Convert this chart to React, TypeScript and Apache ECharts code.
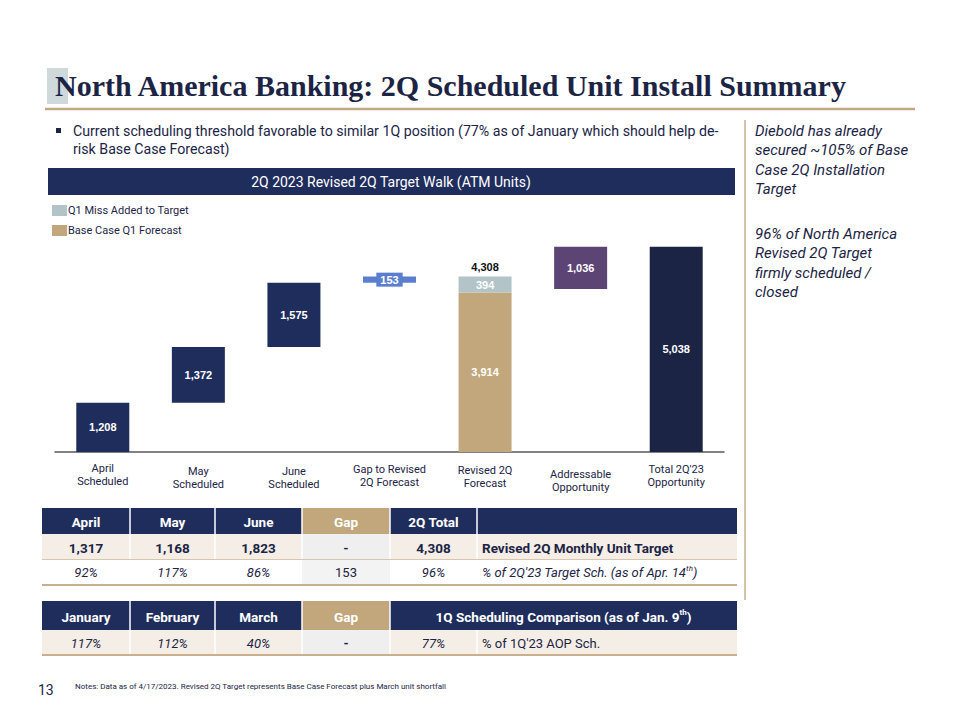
import React, { useEffect, useRef } from 'react';
import * as echarts from 'echarts';

// ---------- data ----------
const categories = [
  'April\nScheduled',
  'May\nScheduled',
  'June\nScheduled',
  'Gap to Revised\n2Q Forecast',
  'Revised 2Q\nForecast',
  'Addressable\nOpportunity',
  "Total 2Q'23\nOpportunity",
];
const scheduledUnits = [1208, 1372, 1575]; // April, May, June scheduled
const gapToRevised = 153;
const baseCaseQ1Forecast = 3914;
const q1MissAdded = 394;
const addressableOpportunity = 1036;
const totalOpportunity = 5038;

const titleText = 'North America Banking: 2Q Scheduled Unit Install Summary';
const bulletText =
  'Current scheduling threshold favorable to similar 1Q position (77% as of January which should help de-\nrisk Base Case Forecast)';
const sideNote1 = 'Diebold has already\nsecured ~105% of Base\nCase 2Q Installation\nTarget';
const sideNote2 = '96% of North America\nRevised 2Q Target\nfirmly scheduled /\nclosed';
const bannerText = '2Q 2023 Revised 2Q Target Walk (ATM Units)';
const footNumber = '13';
const footNote =
  'Notes: Data as of 4/17/2023. Revised 2Q Target represents Base Case Forecast plus March unit shortfall';

const table1Header = ['April', 'May', 'June', 'Gap', '2Q Total', ''];
const table1Target = ['1,317', '1,168', '1,823', '-', '4,308', 'Revised 2Q Monthly Unit Target'];
const table1Pct = ['92%', '117%', '86%', '153', '96%', "% of 2Q'23 Target Sch. (as of Apr. 14{sup|th})"];
const table2Header = ['January', 'February', 'March', 'Gap', '1Q Scheduling Comparison (as of Jan. 9{supw|th})'];
const table2Pct = ['117%', '112%', '40%', '-', '77%', "% of 1Q'23 AOP Sch."];

// ---------- styles ----------
const NAVY = '#1f2d5c';
const DARK = '#1b2445';
const TAN = '#c3a77c';
const LIGHT = '#b3c4c9';
const GAPBLUE = '#5b7fce';
const PURPLE = '#5c4474';
const TOTALNAVY = '#1b2445';
const BEIGE = '#f4eee6';
const GREYCELL = '#efefef';
const FONT = 'Roboto, "Noto Sans", sans-serif';
const BARFONT = '"Liberation Sans", Arial, sans-serif';
// per-category vertical nudge of the axis labels (layout only)
const labelNudge = [0, 3, 3, 1, 2, 6, 1];

const n = categories.length;
const blank = (): (number | string)[] => Array(n).fill('-');

// waterfall building (derived from the values above)
const cum1 = scheduledUnits[0];
const cum2 = cum1 + scheduledUnits[1];
const cum3 = cum2 + scheduledUnits[2];
const revisedTotal = baseCaseQ1Forecast + q1MissAdded;

const helperData = blank();
helperData[1] = cum1;
helperData[2] = cum2;
helperData[3] = cum3;
helperData[5] = totalOpportunity - addressableOpportunity;

const schedData = blank();
schedData[0] = scheduledUnits[0];
schedData[1] = scheduledUnits[1];
schedData[2] = scheduledUnits[2];
const gapData = blank();
gapData[3] = gapToRevised;
const baseData = blank();
baseData[4] = baseCaseQ1Forecast;
const missData = blank();
missData[4] = q1MissAdded;
const addrData = blank();
addrData[5] = addressableOpportunity;
const totalData = blank();
totalData[6] = totalOpportunity;
const revisedLabelData = blank();
revisedLabelData[4] = revisedTotal;

const fmt = (v: number) => Number(v).toLocaleString('en-US');

const barLabel = {
  show: true,
  position: 'inside',
  color: '#fff',
  fontFamily: BARFONT,
  fontWeight: 'bold',
  fontSize: 11,
  formatter: (p: any) => fmt(p.value),
};

function barSeries(name: string, data: any[], color: string, extra: any = {}) {
  return {
    name,
    type: 'bar',
    stack: 'walk',
    data,
    barWidth: 53,
    barGap: '-100%',
    itemStyle: { color },
    label: barLabel,
    ...extra,
  };
}

// ---------- tables ----------
const colX = [42, 130, 215, 302, 390, 477, 737];

function txt(x: number, y: number, text: string, o: any = {}) {
  return {
    type: 'text',
    x,
    y,
    silent: true,
    style: {
      text,
      fill: o.fill || DARK,
      fontFamily: o.fontFamily || FONT,
      fontSize: o.fontSize || 13.5,
      fontWeight: o.fontWeight || 'normal',
      fontStyle: o.fontStyle || 'normal',
      textAlign: o.align || 'center',
      textVerticalAlign: o.valign || 'middle',
      lineHeight: o.lineHeight,
      rich: o.rich,
    },
  };
}
function rect(x: number, y: number, w: number, h: number, fill: string) {
  return { type: 'rect', silent: true, shape: { x, y, width: w, height: h }, style: { fill } };
}
function vline(x: number, y1: number, y2: number, stroke: string, lw = 1.5) {
  return { type: 'line', silent: true, shape: { x1: x, y1, x2: x, y2 }, style: { stroke, lineWidth: lw } };
}
function hline(y: number, x1: number, x2: number, stroke: string, lw = 1) {
  return { type: 'line', silent: true, shape: { x1, y1: y, x2, y2: y }, style: { stroke, lineWidth: lw } };
}

function buildTables() {
  const els: any[] = [];
  const L = colX[0];
  const R = colX[colX.length - 1];
  // ---- table 1 ----
  const h0 = 508, h1 = 534, r1 = 559, r2 = 584;
  els.push(rect(L, h0, R - L, h1 - h0, NAVY));
  els.push(rect(colX[3], h0, colX[4] - colX[3], h1 - h0, TAN));
  els.push(rect(L, h1, R - L, r1 - h1, BEIGE));
  els.push(rect(colX[3], h1, colX[4] - colX[3], r1 - h1, GREYCELL));
  els.push(rect(colX[3], r1, colX[4] - colX[3], r2 - r1, '#f3f3f3'));
  for (let i = 1; i < colX.length - 1; i++) {
    els.push(vline(colX[i], h0, r1, '#ffffff', 1.5));
  }
  els.push(hline(r1 + 0.5, L, R, '#d8c6ac', 1));
  els.push(hline(r2 + 1, L, R, '#c9b08c', 2));
  table1Header.forEach((t, i) => {
    if (!t) return;
    els.push(txt((colX[i] + colX[i + 1]) / 2, (h0 + h1) / 2 + 1, t, { fill: '#fff', fontWeight: 'bold' }));
  });
  table1Target.forEach((t, i) => {
    const last = i === table1Target.length - 1;
    els.push(
      txt(last ? colX[i] + 5 : (colX[i] + colX[i + 1]) / 2, (h1 + r1) / 2 + 1, t, {
        fontWeight: 'bold',
        align: last ? 'left' : 'center',
      })
    );
  });
  table1Pct.forEach((t, i) => {
    const last = i === table1Pct.length - 1;
    els.push(
      txt(last ? colX[i] + 5 : (colX[i] + colX[i + 1]) / 2, (r1 + r2) / 2 + 1, t, {
        fontStyle: i === 3 ? 'normal' : 'italic',
        fontSize: 13,
        align: last ? 'left' : 'center',
        rich: last
          ? {
              sup: { fontSize: 8, fontStyle: 'italic', fontFamily: FONT, fill: DARK, verticalAlign: 'top', lineHeight: 16 },
            }
          : undefined,
      })
    );
  });

  // ---- table 2 ----
  const g0 = 601, g1 = 630, g2 = 654;
  els.push(rect(L, g0, R - L, g1 - g0, NAVY));
  els.push(rect(colX[3], g0, colX[4] - colX[3], g1 - g0, TAN));
  els.push(rect(L, g1, R - L, g2 - g1, BEIGE));
  els.push(rect(colX[3], g1, colX[4] - colX[3], g2 - g1, GREYCELL));
  for (let i = 1; i <= 4; i++) els.push(vline(colX[i], g0, g2, '#ffffff', 1.5));
  els.push(vline(colX[5], g1, g2, '#ffffff', 1.5));
  els.push(hline(g2 + 1, L, R, '#c9b08c', 2));
  table2Header.forEach((t, i) => {
    const cx = i < 4 ? (colX[i] + colX[i + 1]) / 2 : (colX[4] + R) / 2;
    els.push(
      txt(cx, (g0 + g1) / 2 + 1, t, {
        fill: '#fff',
        fontWeight: 'bold',
        rich:
          i === 4
            ? { supw: { fontSize: 8, fontWeight: 'bold', fontFamily: FONT, fill: '#fff', verticalAlign: 'top', lineHeight: 16 } }
            : undefined,
      })
    );
  });
  table2Pct.forEach((t, i) => {
    const last = i === table2Pct.length - 1;
    els.push(
      txt(last ? colX[i] + 5 : (colX[i] + colX[i + 1]) / 2, (g1 + g2) / 2 + 1, t, {
        fontStyle: i === 3 || last ? 'normal' : 'italic',
        fontWeight: i === 3 ? 'bold' : 'normal',
        fontSize: 13,
        align: last ? 'left' : 'center',
      })
    );
  });
  return els;
}

function buildSlide() {
  const els: any[] = [];
  // title accent square + title + rule
  els.push(rect(47, 68, 21, 36, '#cfd9dc'));
  els.push(
    txt(55, 100, titleText, {
      fontFamily: '"Liberation Serif", "DejaVu Serif", serif',
      fontSize: 30,
      fontWeight: 'bold',
      align: 'left',
      valign: 'bottom',
      fill: DARK,
    })
  );
  els.push(hline(109, 45, 915, '#c4a882', 2.5));
  // bullet
  els.push(rect(56, 128, 5, 5, DARK));
  els.push(txt(73, 122, bulletText, { align: 'left', valign: 'top', fontSize: 14.2, lineHeight: 18 }));
  // right side notes
  els.push(vline(745, 120, 600, '#c9b08c', 1.5));
  els.push(txt(755, 121, sideNote1, { align: 'left', valign: 'top', fontSize: 15, fontStyle: 'italic', lineHeight: 19.5 }));
  els.push(txt(755, 224, sideNote2, { align: 'left', valign: 'top', fontSize: 15, fontStyle: 'italic', lineHeight: 19.5 }));
  // banner
  els.push(rect(48, 168, 687, 27, NAVY));
  els.push(txt(391, 182, bannerText, { fill: '#fff', fontSize: 14 }));
  // footer
  els.push(txt(38, 690, footNumber, { align: 'left', fontSize: 14 }));
  els.push(txt(75, 686, footNote, { align: 'left', fontSize: 8 }));
  return els;
}

const option: any = {
  animation: false,
  backgroundColor: '#ffffff',
  textStyle: { fontFamily: FONT },
  grid: { left: 55, right: 236, top: 228, bottom: 268, containLabel: false },
  legend: {
    orient: 'vertical',
    left: 47,
    top: 200,
    itemWidth: 15,
    itemHeight: 11,
    itemGap: 9,
    icon: 'rect',
    selectedMode: false,
    textStyle: { fontSize: 11, color: DARK, fontFamily: FONT, padding: [0, 0, 0, -4] },
    data: ['Q1 Miss Added to Target', 'Base Case Q1 Forecast'],
  },
  xAxis: {
    type: 'category',
    data: categories.map((c, i) => ({ value: c, textStyle: { padding: [labelNudge[i], 0, 0, 0] } })),
    axisLine: { lineStyle: { color: '#595959', width: 1.5 } },
    axisTick: { show: false },
    axisLabel: { interval: 0, color: DARK, fontSize: 11, lineHeight: 13, margin: 10, fontFamily: FONT },
  },
  yAxis: { type: 'value', min: 0, max: 5500, show: false, splitLine: { show: false } },
  series: [
    barSeries('helper', helperData, 'transparent', { label: { show: false }, silent: true }),
    barSeries('Scheduled', schedData, NAVY),
    barSeries('Gap to Revised 2Q Forecast', gapData, GAPBLUE, {
      label: { ...barLabel, backgroundColor: GAPBLUE, padding: [2, 4, 1, 4] },
    }),
    barSeries('Base Case Q1 Forecast', baseData, TAN),
    barSeries('Q1 Miss Added to Target', missData, LIGHT),
    barSeries('Addressable Opportunity', addrData, PURPLE),
    barSeries("Total 2Q'23 Opportunity", totalData, TOTALNAVY),
    {
      name: 'Revised 2Q Target',
      type: 'bar',
      stack: 'label',
      data: revisedLabelData,
      barWidth: 53,
      barGap: '-100%',
      itemStyle: { color: 'transparent' },
      silent: true,
      label: {
        show: true,
        position: 'top',
        distance: 4,
        color: '#111111',
        fontFamily: BARFONT,
        fontWeight: 'bold',
        fontSize: 11,
        formatter: (p: any) => fmt(p.value),
      },
    },
  ],
  graphic: { elements: [...buildSlide(), ...buildTables()] },
};

export default function App() {
  const ref = useRef<HTMLDivElement>(null);
  useEffect(() => {
    if (!ref.current) return;
    const chart = echarts.init(ref.current, null, { renderer: 'svg' });
    chart.setOption(option);
    return () => chart.dispose();
  }, []);
  return (
    <div
      ref={ref}
      style={{ position: 'absolute', left: 0, top: 0, width: 960, height: 720, background: '#fff' }}
    />
  );
}
